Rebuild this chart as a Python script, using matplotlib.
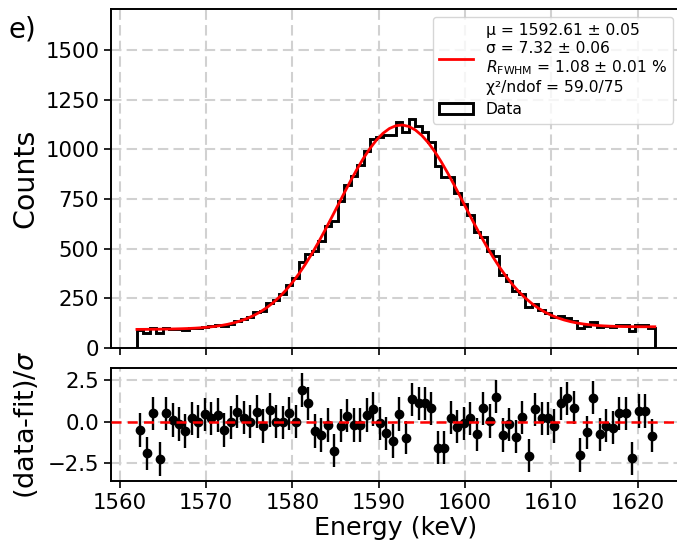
#!/usr/bin/env python

# Peak fit of the 1592 keV line: binned data, fit curve and
#  normalised residuals underneath.

import numpy
import matplotlib
matplotlib.use('Agg')
import matplotlib.pyplot as plt

# Binning of the spectrum (keV)
bin_lo = 1562.0
bin_hi = 1622.0
n_bins = 80

# Counts per bin
counts = [88, 74, 98, 72, 99, 95, 94, 91, 100, 100,
          106, 107, 114, 109, 121, 137, 144, 154, 178, 186,
          224, 241, 272, 318, 350, 434, 470, 488, 540, 615,
          638, 740, 820, 865, 922, 993, 1050, 1060, 1070, 1073,
          1137, 1087, 1151, 1120, 1088, 1037, 915, 862, 858, 781,
          723, 668, 582, 560, 485, 463, 368, 337, 285, 270,
          205, 222, 192, 174, 154, 158, 152, 137, 100, 110,
          129, 103, 107, 104, 112, 112, 83, 112, 112, 97]

# Fit curve, evaluated at the bin edges
fit_curve = [92.2, 92.4, 92.7, 93.1, 93.5, 94.0, 94.8, 95.7, 96.9, 98.5,
             100.7, 103.5, 107.1, 111.8, 117.8, 125.5, 135.1, 147.0, 161.6, 179.4,
             200.7, 225.9, 255.4, 289.4, 328.2, 371.7, 419.9, 472.6, 529.1, 589.0,
             651.3, 714.8, 778.5, 840.7, 900.2, 955.3, 1004.7, 1046.8, 1080.6, 1104.9,
             1119.0, 1122.6, 1115.3, 1097.7, 1070.2, 1033.4, 988.7, 937.4, 880.8, 820.4,
             757.8, 694.3, 631.4, 570.5, 511.9, 457.1, 406.4, 360.3, 318.9, 282.1,
             250.2, 222.7, 199.3, 179.7, 163.5, 150.2, 139.6, 131.1, 124.4, 119.2,
             115.3, 112.3, 110.1, 108.5, 107.4, 106.6, 106.1, 105.8, 105.6, 105.5,
             105.5]

# (data-fit)/sigma per bin
residuals = [-0.5, -1.9, 0.5, -2.24, 0.5, 0.1, -0.14, -0.56, 0.2, 0.0,
             0.44, 0.2, 0.4, -0.5, -0.04, 0.6, 0.24, 0.0, 0.6, -0.26,
             0.7, 0.0, -0.04, 0.5, 0.0, 1.9, 1.1, -0.56, -0.8, -0.2,
             -1.74, -0.24, 0.36, -0.2, -0.2, 0.4, 0.76, -0.1, -0.7, -1.16,
             0.46, -0.96, 1.34, 1.1, 1.1, 0.8, -1.56, -1.56, 0.24, -0.3,
             -0.1, 0.2, -0.76, 0.8, 0.04, 1.5, -0.8, -0.16, -0.9, 0.26,
             -2.04, 0.74, 0.2, 0.2, -0.26, 1.1, 1.4, 0.84, -2.0, -0.64,
             1.44, -0.76, -0.24, -0.36, 0.5, 0.5, -2.2, 0.64, 0.64, -0.84]

fit_label = ('\u03bc = 1592.61 \u00b1 0.05\n'
             '\u03c3 = 7.32 \u00b1 0.06\n'
             '$R_{\\mathrm{FWHM}}$ = 1.08 \u00b1 0.01 %\n'
             '\u03c7\u00b2/ndof = 59.0/75')

edges = numpy.linspace(bin_lo, bin_hi, n_bins + 1)
centres = 0.5 * (edges[1:] + edges[:-1])

plt.rcParams['font.family'] = ['DejaVu Sans']
plt.rcParams['mathtext.fontset'] = 'dejavusans'

fig = plt.figure(figsize=(6.77, 5.43), dpi=100, facecolor='white')

# Axes positions (figure fractions); right spine sits just off the canvas
ax = fig.add_axes([0.164, 0.3597, 0.8415, 0.6232])
axr = fig.add_axes([0.164, 0.1142, 0.8415, 0.2086])

grid_style = dict(color='0.82', linestyle=(0, (5, 2.5)), linewidth=1.5)

# Upper panel: data histogram and fit
ax.hist(centres, bins=edges, weights=counts, histtype='step',
        color='black', linewidth=2.1, label='Data', zorder=3)
ax.plot(edges, fit_curve, color='red', linewidth=2.0, label=fit_label,
        zorder=4)
ax.set_xlim(1559.0, 1625.0)
ax.set_ylim(0, 1706)
ax.set_yticks([0, 250, 500, 750, 1000, 1250, 1500])
ax.set_xticks([1560, 1570, 1580, 1590, 1600, 1610, 1620])
ax.tick_params(axis='x', labelbottom=False)
ax.grid(True, **grid_style)
ax.set_axisbelow(True)
ax.set_ylabel('Counts', fontsize=20.5)
ax.yaxis.set_label_coords(-0.1255, 0.5)

handles, labels = ax.get_legend_handles_labels()
ax.legend(handles[::-1], labels[::-1], loc='upper right', fontsize=11.2,
          handlelength=2.2, framealpha=0.8)

# Lower panel: residuals
axr.errorbar(centres, residuals, yerr=numpy.ones(len(residuals)),
             fmt='o', color='black', markersize=6, elinewidth=1.7,
             capsize=0, zorder=3)
axr.axhline(0.0, color='red', linestyle=(0, (4, 2.5)), linewidth=1.8,
            zorder=4)
axr.set_xlim(1559.0, 1625.0)
axr.set_ylim(-3.56, 3.24)
axr.set_yticks([-2.5, 0.0, 2.5])
axr.set_xticks([1560, 1570, 1580, 1590, 1600, 1610, 1620])
axr.grid(True, **grid_style)
axr.set_axisbelow(True)
axr.set_xlabel('Energy (keV)', fontsize=18.3, labelpad=2)
axr.set_ylabel('(data-fit)/$\\sigma$', fontsize=19.5)
axr.yaxis.set_label_coords(-0.1255, 0.5)

for a in (ax, axr):
    a.tick_params(labelsize=15.3, length=5, width=1.2)
    for s in a.spines.values():
        s.set_linewidth(1.4)

fig.text(0.012, 0.945, 'e)', fontsize=20, va='center', ha='left')

fig.savefig('out.png', dpi=100)
